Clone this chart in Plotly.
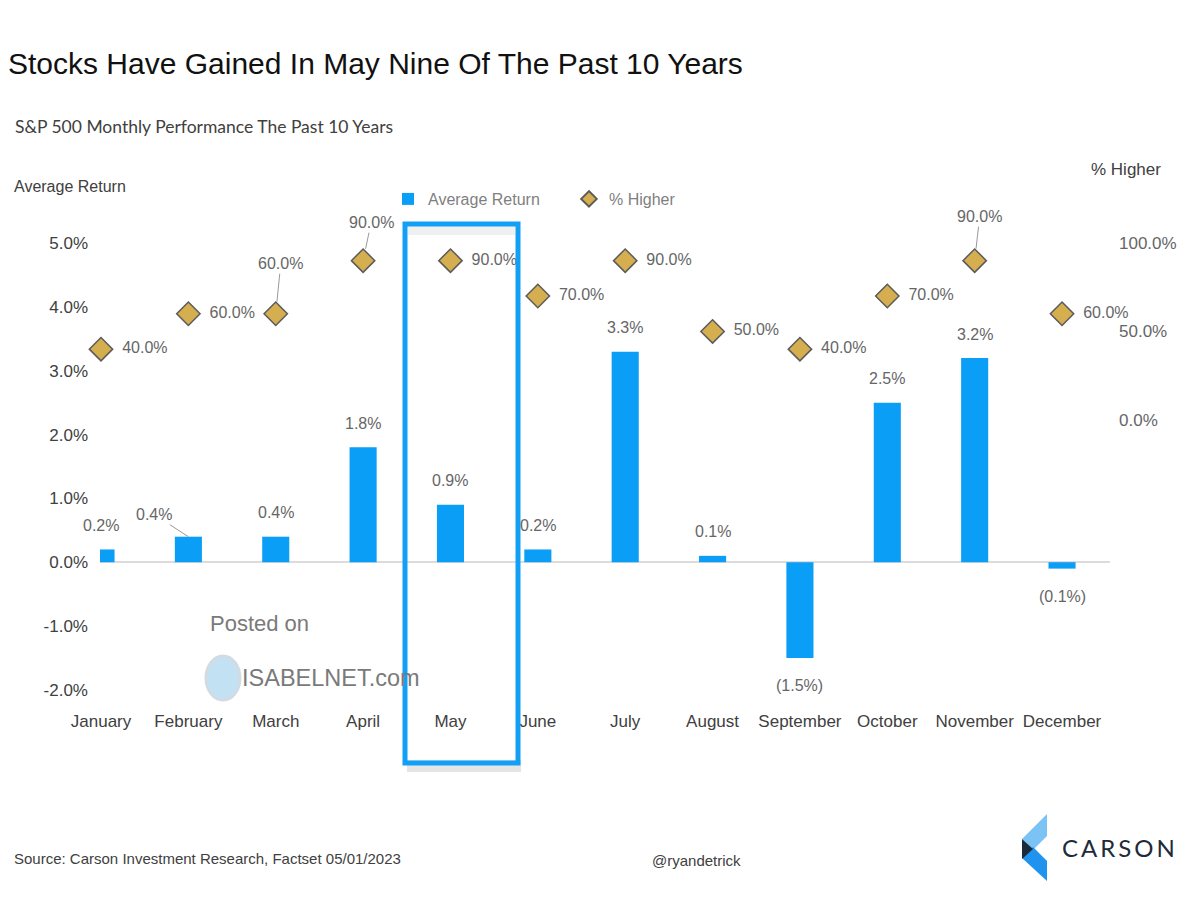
import plotly.graph_objects as go

months = ["January", "February", "March", "April", "May", "June", "July",
          "August", "September", "October", "November", "December"]
avg_return = [0.2, 0.4, 0.4, 1.8, 0.9, 0.2, 3.3, 0.1, -1.5, 2.5, 3.2, -0.1]
pct_higher = [40, 60, 60, 90, 90, 70, 90, 50, 40, 70, 90, 60]
left_ticks = [-2, -1, 0, 1, 2, 3, 4, 5]
right_ticks = [0, 50, 100]

FONT = "Liberation Sans, Arial, sans-serif"
BAR_C = "#0a9ef6"
DIA_C = "#d4ae4f"
LBL_C = "#666666"

OFF = 8  # page body margin
W, H = 1200 - OFF, 900 - OFF
# plot-area geometry in page pixels
L, R, T, B = 100, 1110, 224, 709
def px(x):
    return (x - L) / (R - L)
def py(y):
    return (B - y) / (B - T)

def fmt_ret(v):
    return f"({abs(v):.1f}%)" if v < 0 else f"{v:.1f}%"

x_idx = list(range(len(months)))

fig = go.Figure()
fig.add_trace(go.Bar(
    x=x_idx, y=avg_return, name="Average Return",
    marker=dict(color=BAR_C, line=dict(width=0)), width=0.31,
    yaxis="y", hoverinfo="skip",
))

above_lbl = {2: (5, -50), 3: (8, -38), 10: (5, -44)}
dia_text = ["" if i in above_lbl else f"  {v:.1f}%" for i, v in enumerate(pct_higher)]
fig.add_trace(go.Scatter(
    x=x_idx, y=pct_higher, name="% Higher", mode="markers+text",
    marker=dict(symbol="diamond", size=18, color=DIA_C,
                line=dict(color="#5b5b5b", width=1.5)),
    text=dia_text, textposition="middle right",
    textfont=dict(family=FONT, size=16, color=LBL_C),
    yaxis="y2", cliponaxis=False, hoverinfo="skip",
))

ann = []
for i, v in enumerate(avg_return):
    if i == 1:
        ann.append(dict(x=i, y=v, xref="x", yref="y", text=fmt_ret(v),
                        showarrow=True, arrowhead=0, arrowwidth=1, arrowcolor="#999999",
                        ax=-34, ay=-22, standoff=0,
                        font=dict(family=FONT, size=16, color=LBL_C)))
        continue
    ann.append(dict(x=i, y=v, xref="x", yref="y", text=fmt_ret(v), showarrow=False,
                    yshift=(24 if v >= 0 else -28), yanchor="middle",
                    font=dict(family=FONT, size=16, color=LBL_C)))
for i, (ax_, ay_) in above_lbl.items():
    ann.append(dict(x=i, y=pct_higher[i], xref="x", yref="y2", text=f"{pct_higher[i]:.1f}%",
                    showarrow=True, arrowhead=0, arrowwidth=1, arrowcolor="#999999",
                    ax=ax_, ay=ay_, standoff=12,
                    font=dict(family=FONT, size=16, color=LBL_C)))

def txt(x, y, s, size, color="#404040", xanchor="left", family=FONT):
    return dict(x=px(x), y=py(y), xref="paper", yref="paper", text=s, showarrow=False,
                xanchor=xanchor, yanchor="middle", font=dict(family=family, size=size, color=color))

ann += [
    txt(13, 126, "S&P 500 Monthly Performance The Past 10 Years", 17.5, "#404040", family="Lato, sans-serif"),
    txt(12, 186, "Average Return", 16, "#404040"),
    txt(1089, 170, "% Higher", 17, "#404040"),
    txt(12, 858, "Source: Carson Investment Research, Factset 05/01/2023", 15, "#404040"),
    txt(696, 860, "@ryandetrick", 15, "#404040", xanchor="center"),
    txt(1060, 848, "C\u2009A\u2009R\u2009S\u2009O\u2009N", 24, "#1e2b3a", family="Lato, sans-serif"),
    txt(208, 623, "Posted on", 22, "#7a7a7a"),
    txt(240, 678, "ISABELNET.com", 23.5, "#7a7a7a"),
]

def poly(pts):
    return "M " + " L ".join(f"{px(a):.5f},{py(b):.5f}" for a, b in pts) + " Z"

shapes = [
    dict(type="rect", xref="paper", yref="paper", x0=px(407), x1=px(521), y0=py(772), y1=py(760),
         line=dict(width=0), fillcolor="rgba(0,0,0,0.10)", layer="below"),
    dict(type="rect", xref="paper", yref="paper", x0=px(408), x1=px(515), y0=py(235), y1=py(226),
         line=dict(width=0), fillcolor="rgba(0,0,0,0.06)", layer="below"),
    dict(type="rect", xref="paper", yref="paper", x0=px(405), x1=px(518), y0=py(763), y1=py(224),
         line=dict(color="#12a0f5", width=5), fillcolor="rgba(0,0,0,0)"),
    dict(type="circle", xref="paper", yref="paper", x0=px(206), x1=px(240), y0=py(700), y1=py(656),
         line=dict(color="#d3dbe2", width=3), fillcolor="rgba(120,190,230,0.45)"),
    dict(type="path", xref="paper", yref="paper", path=poly([(1047, 814), (1047, 836), (1033, 850), (1022, 839)]),
         line=dict(width=0), fillcolor="#7cc3f5"),
    dict(type="path", xref="paper", yref="paper", path=poly([(1022, 858), (1033, 847), (1047, 861), (1047, 881)]),
         line=dict(width=0), fillcolor="#1f93ee"),
    dict(type="path", xref="paper", yref="paper", path=poly([(1022, 839), (1033, 849), (1022, 859)]),
         line=dict(width=0), fillcolor="#1b2a3a"),
]

fig.update_layout(
    width=W, height=H,
    margin=dict(l=L - OFF, r=W - (R - OFF), t=T - OFF, b=H - (B - OFF)),
    paper_bgcolor="white", plot_bgcolor="white",
    title=dict(text="Stocks Have Gained In May Nine Of The Past 10 Years",
               x=0.0, xanchor="left", y=1 - (63 - OFF) / H, yanchor="middle",
               xref="container", yref="container",
               font=dict(family=FONT, size=30, color="#111111")),
    xaxis=dict(tickmode="array", tickvals=x_idx, ticktext=months, range=[-0.0115, 11.549],
               showgrid=False, showline=False, zeroline=False, ticks="", tickangle=0,
               tickfont=dict(family=FONT, size=17, color="#404040")),
    yaxis=dict(range=[-2.3, 5.3], tickvals=left_ticks,
               ticktext=[f"{v:.1f}%" for v in left_ticks],
               showgrid=False, zeroline=True, zerolinecolor="#dcdcdc", zerolinewidth=2,
               showline=False, ticks="", ticklabelstandoff=11,
               tickfont=dict(family=FONT, size=17, color="#404040")),
    yaxis2=dict(range=[-163.3, 110.7], overlaying="y", side="right",
                tickvals=right_ticks, ticktext=[f"{v:.1f}%" for v in right_ticks],
                showgrid=False, zeroline=False, showline=False, ticks="",
                ticklabelstandoff=8,
                tickfont=dict(family=FONT, size=17, color="#666666")),
    legend=dict(orientation="h", x=px(388), y=py(199), xanchor="left", yanchor="middle",
                font=dict(family=FONT, size=16, color="#7f7f7f"), bgcolor="rgba(0,0,0,0)",
                entrywidth=136, itemsizing="constant"),
    annotations=ann, shapes=shapes, showlegend=True,
)

fig.write_html("out.html")
